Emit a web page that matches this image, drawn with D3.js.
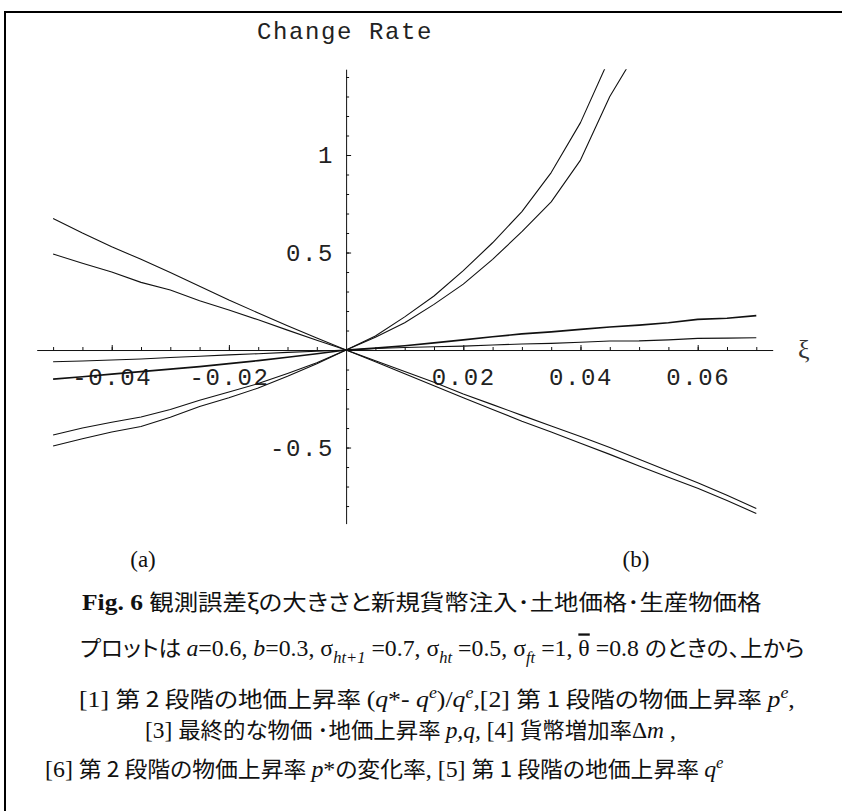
<!DOCTYPE html>
<html>
<head>
<meta charset="utf-8">
<script src="https://cdn.jsdelivr.net/npm/d3@7"></script>
<style>
  body { margin: 0; background: #fff; }
  svg { display: block; }
</style>
</head>
<body>
<div id="chart"></div>
<script>
// xi values (observation error), sampled every 0.005
const xi = [-0.05, -0.045, -0.04, -0.035, -0.03, -0.025, -0.02, -0.015, -0.01, -0.005, 0,
  0.005, 0.01, 0.015, 0.02, 0.025, 0.03, 0.035, 0.04, 0.045, 0.05, 0.055, 0.06, 0.065, 0.07];

// change rates (null = outside the plotted range)
const rate1 = [-0.492, -0.455, -0.42, -0.392, -0.345, -0.29, -0.245, -0.195, -0.135, -0.07, 0,
  0.072, 0.17, 0.277, 0.407, 0.55, 0.71, 0.91, 1.166, 1.5, null, null, null, null, null];
const rate2 = [-0.436, -0.40, -0.37, -0.343, -0.305, -0.258, -0.215, -0.172, -0.12, -0.065, 0,
  0.065, 0.14, 0.234, 0.338, 0.465, 0.607, 0.76, 0.974, 1.30, 1.55, null, null, null, null];
const rate3 = [-0.149, -0.137, -0.124, -0.111, -0.098, -0.085, -0.07, -0.054, -0.037, -0.019, 0,
  0.01, 0.022, 0.037, 0.052, 0.068, 0.083, 0.093, 0.106, 0.118, 0.128, 0.14, 0.157, 0.163, 0.176];
const rate4 = [-0.06, -0.056, -0.051, -0.046, -0.038, -0.032, -0.025, -0.019, -0.012, -0.006, 0,
  0.008, 0.013, 0.017, 0.02, 0.026, 0.031, 0.034, 0.04, 0.046, 0.047, 0.052, 0.06, 0.061, 0.063];
const rate5 = [0.492, 0.445, 0.40, 0.347, 0.308, 0.253, 0.205, 0.155, 0.102, 0.05, 0,
  -0.055, -0.11, -0.165, -0.225, -0.28, -0.335, -0.39, -0.443, -0.5, -0.56, -0.62, -0.68, -0.745, -0.812];
const rate6 = [0.675, 0.60, 0.53, 0.465, 0.398, 0.327, 0.256, 0.19, 0.125, 0.062, 0,
  -0.06, -0.122, -0.183, -0.245, -0.305, -0.365, -0.42, -0.478, -0.535, -0.595, -0.652, -0.709, -0.772, -0.838];

const seriesList = [rate1, rate2, rate3, rate4, rate5, rate6];
const thickSeries = [rate3];

// ticks
const xMinorTicks = d3.range(-10, 15).filter(k => k !== 0).map(k => k * 0.005);
const xMajorTicks = [-0.04, -0.02, 0.02, 0.04, 0.06];
const xTickLabels = ["-0.04", "-0.02", "0.02", "0.04", "0.06"];
const yMinorTicks = d3.range(-8, 15).filter(k => k !== 0).map(k => k / 10);
const yMajorTicks = [-0.5, 0.5, 1];
const yTickLabels = ["-0.5", "0.5", "1"];

const yTitle = "Change Rate";
const xTitle = "ξ";
const panelLabels = ["(a)", "(b)"];

// caption lines: [text, kind, shift]
const captionLines = [
  [["Fig. 6 ", "b"], ["観測誤差ξの大きさと新規貨幣注入･土地価格･生産物価格", "jp"]],
  [["プロットは ", "jp"], ["a", "it"], ["=0.6, ", "rm"], ["b", "it"], ["=0.3, σ", "rm"],
   ["ht+1", "it", "sub"], [" =0.7, σ", "rm"], ["ht", "it", "sub"], [" =0.5, σ", "rm"],
   ["ft", "it", "sub"], [" =1, ", "rm"], ["θ", "ov"], [" =0.8 ", "rm"], ["のときの、上から", "jp"]],
  [["[1] ", "rm"], ["第 2 段階の地価上昇率 ", "jp"], [" (", "rm"], ["q", "it"], ["*- ", "rm"],
   ["q", "it"], ["e", "it", "sup"], [")/", "rm"], ["q", "it"], ["e", "it", "sup"],
   [",[2] ", "rm"], ["第 1 段階の物価上昇率 ", "jp"], ["p", "it"], ["e", "it", "sup"], [",", "rm"]],
  [["[3] ", "rm"], ["最終的な物価 ･地価上昇率 ", "jp"], ["p,q, ", "it"], ["[4] ", "rm"],
   ["貨幣増加率", "jp"], ["Δ", "rm"], ["m", "it"], [" ,", "rm"]],
  [["[6] ", "rm"], ["第 2 段階の物価上昇率 ", "jp"], [" p", "it"], ["*", "rm"], ["の変化率", "jp"],
   [", [5] ", "rm"], ["第 1 段階の地価上昇率 ", "jp"], [" q", "it"], ["e", "it", "sup"]]
];

const width = 842, height = 811;
const monoFont = "'Liberation Mono', 'DejaVu Sans Mono', monospace";
const serifFont = "'Liberation Serif', 'DejaVu Serif', serif";
const jpFont = "'Noto Sans CJK JP', 'Noto Sans', sans-serif";

const svg = d3.select("#chart").append("svg")
  .attr("width", width)
  .attr("height", height);

// frame
svg.append("path")
  .attr("d", `M5,${height} V12 H${width}`)
  .attr("fill", "none")
  .attr("stroke", "#000")
  .attr("stroke-width", 2);

const x = d3.scaleLinear().domain([-0.0528, 0.0728]).range([36.7, 772.7]);
const y = d3.scaleLinear().domain([-0.89, 1.44]).range([523.6, 69.2]);

// x axis (ticks point up, labels below)
const xAxisG = svg.append("g").attr("transform", `translate(0,${y(0)})`);
xAxisG.call(d3.axisBottom(x).tickValues(xMinorTicks).tickSizeInner(-3).tickSizeOuter(0).tickFormat(""));
const xMajor = svg.append("g").attr("transform", `translate(0,${y(0)})`)
  .call(d3.axisBottom(x).tickValues(xMajorTicks).tickSizeInner(-5).tickSizeOuter(0)
    .tickPadding(18).tickFormat((d, i) => xTickLabels[i]));
xMajor.select(".domain").remove();

// y axis (ticks point right, labels left)
const yAxisG = svg.append("g").attr("transform", `translate(${x(0)},0)`);
yAxisG.call(d3.axisLeft(y).tickValues(yMinorTicks).tickSizeInner(-3).tickSizeOuter(0).tickFormat(""));
const yMajor = svg.append("g").attr("transform", `translate(${x(0)},0)`)
  .call(d3.axisLeft(y).tickValues(yMajorTicks).tickSizeInner(-5).tickSizeOuter(0)
    .tickPadding(12).tickFormat((d, i) => yTickLabels[i]));
yMajor.select(".domain").remove();

svg.selectAll(".domain, .tick line").attr("stroke", "#111").attr("stroke-width", 1);
svg.selectAll(".tick text")
  .attr("font-family", monoFont)
  .attr("font-size", 24)
  .attr("letter-spacing", 1.6)
  .attr("fill", "#222");

// curves
svg.append("clipPath").attr("id", "plotClip")
  .append("rect")
  .attr("x", x.range()[0]).attr("y", y.range()[1])
  .attr("width", x.range()[1] - x.range()[0])
  .attr("height", y.range()[0] - y.range()[1]);

const line = d3.line()
  .defined(d => d[1] !== null)
  .x(d => x(d[0]))
  .y(d => y(d[1]));

svg.append("g")
  .attr("clip-path", "url(#plotClip)")
  .selectAll("path")
  .data(seriesList)
  .join("path")
  .attr("d", s => line(xi.map((v, i) => [v, s[i]])))
  .attr("fill", "none")
  .attr("stroke", "#111")
  .attr("stroke-width", s => thickSeries.includes(s) ? 1.7 : 1.1)
  .attr("stroke-linejoin", "round");

// titles
svg.append("text")
  .attr("x", 257).attr("y", 39)
  .attr("font-family", monoFont)
  .attr("font-size", 24)
  .attr("letter-spacing", 1.6)
  .attr("fill", "#222")
  .text(yTitle);

svg.append("text")
  .attr("x", 798).attr("y", 358)
  .attr("font-family", serifFont)
  .attr("font-size", 26)
  .attr("fill", "#333")
  .text(xTitle);

svg.selectAll("text.panel")
  .data(panelLabels)
  .join("text")
  .attr("class", "panel")
  .attr("x", (d, i) => [143, 636][i])
  .attr("y", 567)
  .attr("text-anchor", "middle")
  .attr("font-family", serifFont)
  .attr("font-size", 23)
  .attr("fill", "#111")
  .text(d => d);

// caption
const captionLayout = [
  { x0: 82, y: 610, w: 680 },
  { x0: 80, y: 656, w: 725 },
  { x0: 79, y: 707, w: 716 },
  { x0: 145, y: 738, w: 531 },
  { x0: 45, y: 777, w: 679 }
];

const kindStyle = {
  b:  { family: serifFont, size: 23, weight: "bold", style: "normal" },
  jp: { family: jpFont, size: 22, weight: "normal", style: "normal", palt: true },
  rm: { family: serifFont, size: 23, weight: "normal", style: "normal" },
  ov: { family: serifFont, size: 23, weight: "normal", style: "normal", deco: "overline" },
  it: { family: serifFont, size: 23, weight: "normal", style: "italic" }
};
const shiftOffset = { sub: 7, sup: -9 };

captionLines.forEach((segs, li) => {
  const lay = captionLayout[li];
  const g = svg.append("g");
  const t = g.append("text").attr("x", 0).attr("y", 0).attr("fill", "#111");
  let cur = 0;
  segs.forEach(([txt, kind, shift]) => {
    const st = kindStyle[kind];
    const want = shift ? shiftOffset[shift] : 0;
    t.append("tspan")
      .attr("dy", want - cur)
      .attr("font-family", st.family)
      .attr("font-size", shift ? 16 : st.size)
      .attr("font-weight", st.weight)
      .attr("font-style", st.style)
      .style("text-decoration", st.deco || null)
      .style("font-feature-settings", st.palt ? "'palt'" : null)
      .text(txt);
    cur = want;
  });
  const natural = t.node().getComputedTextLength();
  const s = lay.w / natural;
  g.attr("transform", `translate(${lay.x0},${lay.y}) scale(${s},1)`);
});
</script>
</body>
</html>
